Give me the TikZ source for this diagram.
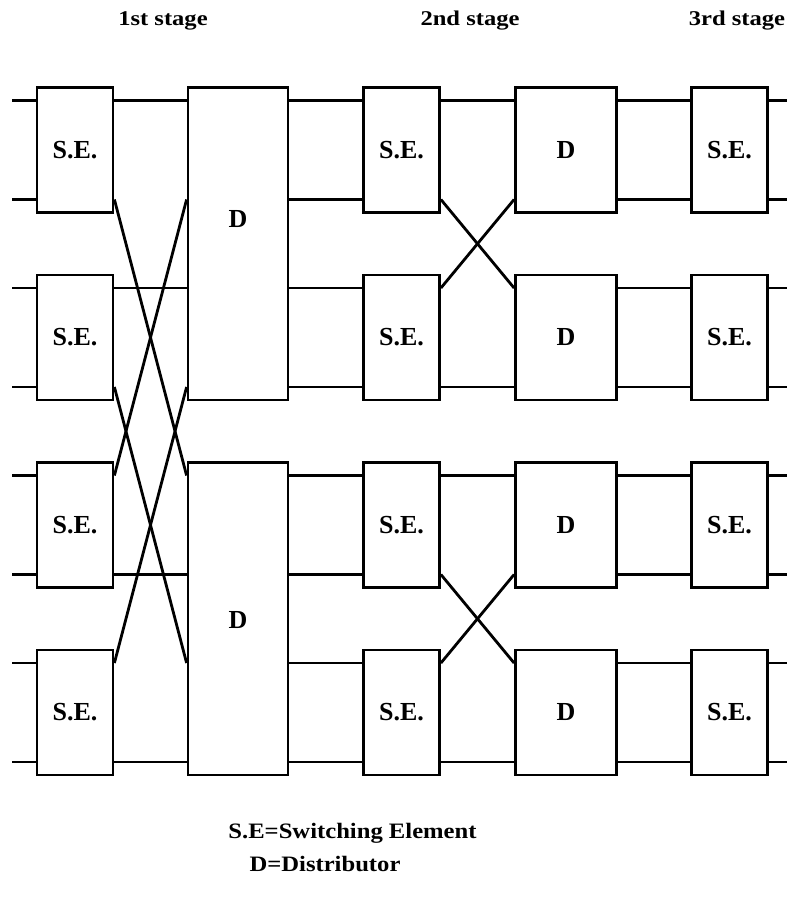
\documentclass[tikz,border=0pt]{standalone}
\usepackage{fontspec}
\setmainfont{Liberation Serif}
\newfontfamily\stagefont[FakeStretch=1.17]{Liberation Serif}
\newfontfamily\legendfont[FakeStretch=1.12]{Liberation Serif}
\usetikzlibrary{calc}
\begin{document}
\begin{tikzpicture}[x=1pt,y=-1pt,line width=2.8pt,
  sebox/.style={draw,minimum width=76pt,minimum height=125pt,inner sep=0pt,font=\fontsize{26}{30}\selectfont\bfseries},
  dbox/.style={draw,minimum width=101pt,minimum height=125pt,inner sep=0pt,font=\fontsize{26}{30}\selectfont\bfseries},
  bigdbox/.style={draw,minimum width=100pt,minimum height=312.5pt,inner sep=0pt},
  boxlab/.style={inner sep=0pt,font=\fontsize{26}{30}\selectfont\bfseries},
  stagelab/.style={inner sep=0pt,anchor=base,font=\stagefont\fontsize{21}{25}\selectfont\bfseries},
  legend/.style={inner sep=0pt,anchor=base,font=\legendfont\fontsize{22}{26}\selectfont\bfseries}]
\useasboundingbox (0,0) rectangle (787,897);

% boxes of columns 1, 3, 4, 5
\foreach \r/\cy in {1/150,2/337.5,3/525,4/712.5}{
  \node[sebox] (a\r) at (75,\cy) {S.E.};
  \node[sebox] (c\r) at (401.5,\cy) {S.E.};
  \node[dbox] (d\r) at (566,\cy) {D};
  \node[sebox] (e\r) at (729.5,\cy) {S.E.};
  \coordinate (y\r u) at (0,{\cy-49.5});
  \coordinate (y\r l) at (0,{\cy+49.5});
  \coordinate (l\r u) at (12,{\cy-49.5});
  \coordinate (l\r l) at (12,{\cy+49.5});
  \coordinate (r\r u) at (787,{\cy-49.5});
  \coordinate (r\r l) at (787,{\cy+49.5});
}

% large distributors of column 2
\node[bigdbox] (b1) at (238,243.75) {};
\node[bigdbox] (b2) at (238,618.75) {};
\node[boxlab] (b1l) at (238,219) {D};
\node[boxlab] (b2l) at (238,620) {D};

% straight connectors
\foreach \r in {1,2,3,4}{
  \foreach \p in {u,l}{
    \draw (l\r\p) -- (a\r.west |- y\r\p);
    \draw (d\r.east |- y\r\p) -- (e\r.west |- y\r\p);
    \draw (e\r.east |- y\r\p) -- (r\r\p);
  }
}
\foreach \r in {1,2}{
  \foreach \p in {u,l}{
    \draw (b1.east |- y\r\p) -- (c\r.west |- y\r\p);
  }
}
\foreach \r in {3,4}{
  \foreach \p in {u,l}{
    \draw (b2.east |- y\r\p) -- (c\r.west |- y\r\p);
  }
}

% column 1 -> column 2
\draw (a1.east |- y1u) -- (b1.west |- y1u);
\draw (a1.east |- y1l) -- (b2.west |- y3u);
\draw (a2.east |- y2u) -- (b1.west |- y2u);
\draw (a2.east |- y2l) -- (b2.west |- y4u);
\draw (a3.east |- y3u) -- (b1.west |- y1l);
\draw (a3.east |- y3l) -- (b2.west |- y3l);
\draw (a4.east |- y4u) -- (b1.west |- y2l);
\draw (a4.east |- y4l) -- (b2.west |- y4l);

% column 3 -> column 4
\draw (c1.east |- y1u) -- (d1.west |- y1u);
\draw (c1.east |- y1l) -- (d2.west |- y2u);
\draw (c2.east |- y2u) -- (d1.west |- y1l);
\draw (c2.east |- y2l) -- (d2.west |- y2l);
\draw (c3.east |- y3u) -- (d3.west |- y3u);
\draw (c3.east |- y3l) -- (d4.west |- y4u);
\draw (c4.east |- y4u) -- (d3.west |- y3l);
\draw (c4.east |- y4l) -- (d4.west |- y4l);

% stage labels
\node[stagelab] (s1) at (163,25) {1st stage};
\node[stagelab] (s2) at (470,25) {2nd stage};
\node[stagelab] (s3) at (737,25) {3rd stage};

% legend
\node[legend] (lg1) at (352.5,838) {S.E=Switching Element};
\node[legend] (lg2) at (325,871) {D=Distributor};
\end{tikzpicture}
\end{document}
